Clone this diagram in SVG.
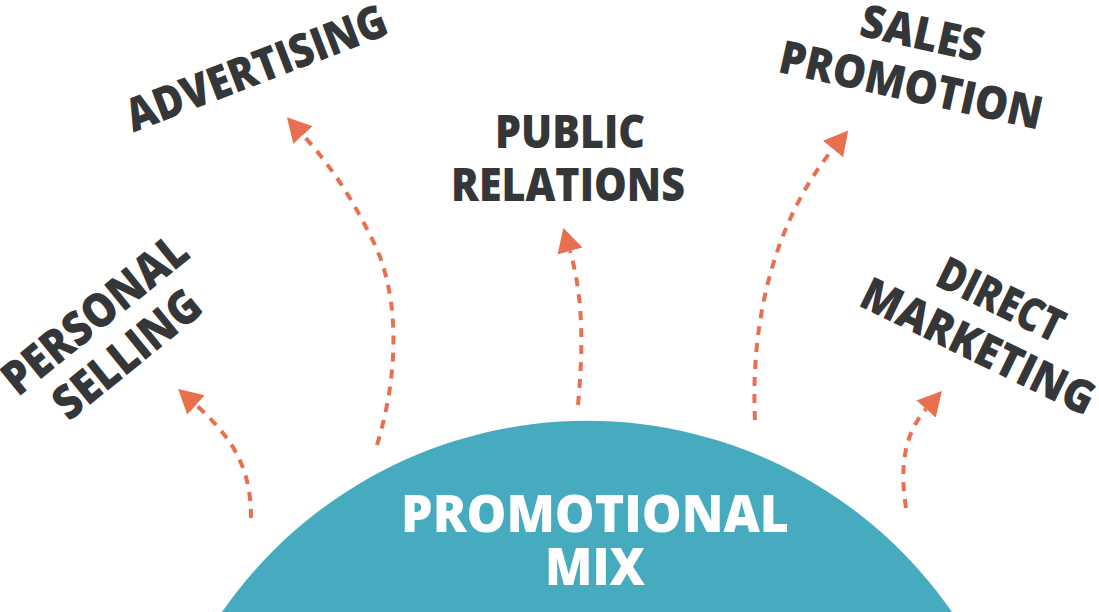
<svg xmlns="http://www.w3.org/2000/svg" width="1099" height="612" viewBox="0 0 1099 612">
<style>
.lbl{font-family:"Open Sans","DejaVu Sans",sans-serif;font-weight:800;fill:#353638;text-anchor:middle}
.ctr{font-family:"Open Sans","DejaVu Sans",sans-serif;font-weight:800;fill:#ffffff;text-anchor:middle;font-size:52px}
.arr{fill:none;stroke:#e8704f;stroke-width:4;stroke-dasharray:9 8;marker-end:url(#ah)}
</style>
<defs>
<marker id="ah" markerUnits="userSpaceOnUse" markerWidth="26" markerHeight="28" refX="0" refY="13" orient="auto" viewBox="0 0 26 26">
<path d="M0,0 L24,13 L0,26 Z" fill="#e8704f"/>
</marker>
</defs>
<rect width="1099" height="612" fill="#ffffff"/>
<g id="connectors">
<path class="arr" d="M251,518 C251,470 235,440 196,405"/>
<path class="arr" d="M377,445 C400,370 400,290 370,235 C350,195 330,165 303,135"/>
<path class="arr" d="M578,405 C583,350 584,300 570,251"/>
<path class="arr" d="M755,420 C750,320 775,220 833,149"/>
<path class="arr" d="M906,508 C900,470 903,435 926,409"/>
</g>
<g id="promotional-mix">
<path d="M222,612 A444,444 0 0 1 952,612 Z" fill="#46abbf"/>
<text class="ctr" x="595" y="532" textLength="388" lengthAdjust="spacingAndGlyphs">PROMOTIONAL</text>
<text class="ctr" x="595" y="585" textLength="100" lengthAdjust="spacingAndGlyphs">MIX</text>
</g>
<g id="personal-selling" transform="translate(105,327) rotate(-39)">
<text class="lbl" x="0" y="0" font-size="47" textLength="224" lengthAdjust="spacingAndGlyphs">PERSONAL</text>
<text class="lbl" x="0" y="51" font-size="47" textLength="176" lengthAdjust="spacingAndGlyphs">SELLING</text>
</g>
<g id="advertising" transform="translate(262,83) rotate(-21)">
<text class="lbl" x="0" y="0" font-size="46" textLength="276" lengthAdjust="spacingAndGlyphs">ADVERTISING</text>
</g>
<g id="public-relations">
<text class="lbl" x="570" y="148" font-size="46" textLength="150" lengthAdjust="spacingAndGlyphs">PUBLIC</text>
<text class="lbl" x="568" y="201" font-size="46" textLength="234" lengthAdjust="spacingAndGlyphs">RELATIONS</text>
</g>
<g id="sales-promotion" transform="translate(919,49) rotate(12.5)">
<text class="lbl" x="0" y="0" font-size="46" textLength="125" lengthAdjust="spacingAndGlyphs">SALES</text>
<text class="lbl" x="0" y="53" font-size="46" textLength="268" lengthAdjust="spacingAndGlyphs">PROMOTION</text>
</g>
<g id="direct-marketing" transform="translate(994,314) rotate(26)">
<text class="lbl" x="0" y="0" font-size="46" textLength="135" lengthAdjust="spacingAndGlyphs">DIRECT</text>
<text class="lbl" x="0" y="52" font-size="46" textLength="254" lengthAdjust="spacingAndGlyphs">MARKETING</text>
</g>
</svg>
